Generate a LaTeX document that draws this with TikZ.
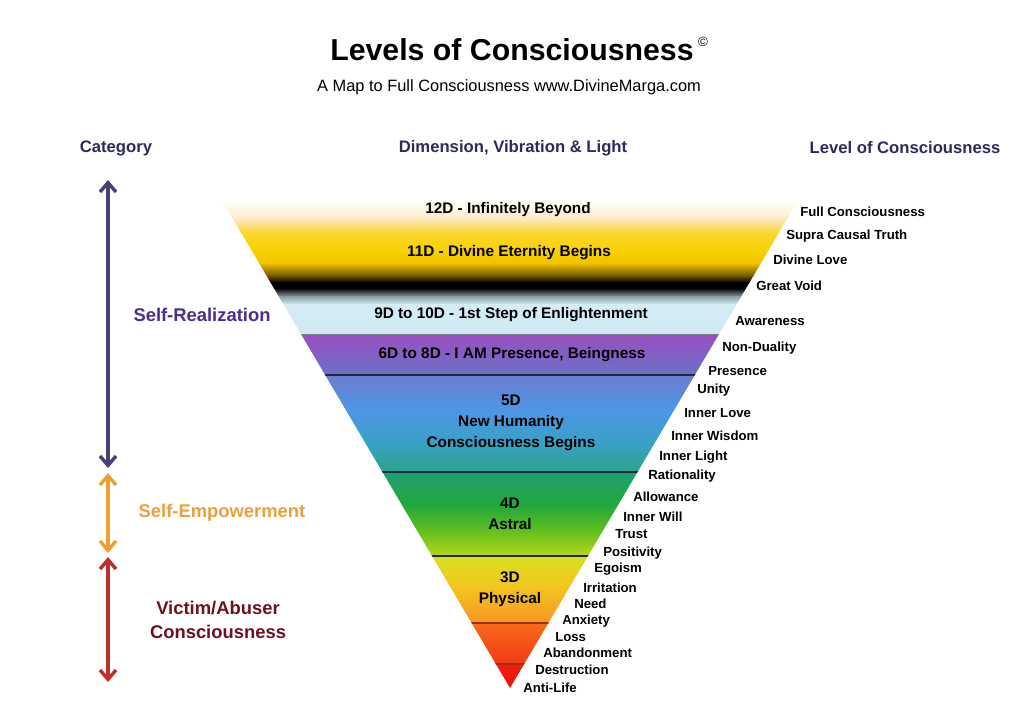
\documentclass[tikz,border=0pt]{standalone}
\usepackage{fontspec}
\setmainfont{Liberation Sans}
\usetikzlibrary{arrows.meta}
\definecolor{hdr}{HTML}{2B2B5E}
\definecolor{cpurple}{HTML}{4A2D8C}
\definecolor{corange}{HTML}{E8A040}
\definecolor{cred}{HTML}{6E1020}
\definecolor{apurple}{HTML}{4A3D78}
\definecolor{aorange}{HTML}{F0A030}
\definecolor{ared}{HTML}{C0302A}
\definecolor{g01}{HTML}{FFFFFF}
\definecolor{g02}{HTML}{FBEBC8}
\definecolor{g03}{HTML}{FAD630}
\definecolor{g04}{HTML}{F8D200}
\definecolor{g05}{HTML}{F0C200}
\definecolor{g06}{HTML}{6A5000}
\definecolor{g07}{HTML}{000000}
\definecolor{g08}{HTML}{8A9AA0}
\definecolor{g09}{HTML}{D5ECF4}
\definecolor{g10}{HTML}{CFE9F3}
\definecolor{g11}{HTML}{9A4EC0}
\definecolor{g12}{HTML}{6A72C8}
\definecolor{g13}{HTML}{6B7DCF}
\definecolor{g14}{HTML}{4F96E6}
\definecolor{g15}{HTML}{3AA0C8}
\definecolor{g16}{HTML}{2AA38A}
\definecolor{g17}{HTML}{1FA073}
\definecolor{g18}{HTML}{22A83A}
\definecolor{g19}{HTML}{5FBF20}
\definecolor{g20}{HTML}{B8D818}
\definecolor{g21}{HTML}{D8E01E}
\definecolor{g22}{HTML}{F2C820}
\definecolor{g23}{HTML}{F89422}
\definecolor{g24}{HTML}{F86A1C}
\definecolor{g25}{HTML}{F23A12}
\definecolor{g26}{HTML}{F01E10}
\definecolor{g27}{HTML}{EE0E0E}
\definecolor{bline}{HTML}{1E2A40}
\definecolor{rline}{HTML}{A03010}
\begin{document}
\begin{tikzpicture}[x=0.75pt,y=-0.75pt,
  title/.style={font=\fontsize{22.7}{27}\selectfont\bfseries},
  sub/.style={font=\fontsize{12.3}{15}\selectfont},
  hd/.style={font=\fontsize{12.5}{15}\selectfont\bfseries, text=hdr},
  band/.style={font=\fontsize{11.5}{15.75}\selectfont\bfseries, align=center, inner sep=0pt},
  rlab/.style={font=\fontsize{9.9}{12}\selectfont\bfseries, anchor=west, inner sep=0pt},
  cat/.style={font=\fontsize{13.8}{17.5}\selectfont\bfseries, align=center},
  arr/.style={line width=2.6pt, arrows={Straight Barb[length=7pt,width=12pt]-Straight Barb[length=7pt,width=12pt]}},
  divb/.style={draw=bline, line width=0.9pt},
  divr/.style={draw=rline, line width=0.9pt}
]
\useasboundingbox (0,0) rectangle (1024,725);
\fill[white] (0,0) rectangle (1024,725);

% inverted triangle with colour bands
\begin{scope}
\clip (210,180) -- (810,180) -- (510,688) -- cycle;
\foreach \ya/\yb/\ca/\cb in {180/200/g01/g01, 200/218/g01/g02, 218/232/g02/g03, 232/250/g03/g04, 250/263/g04/g05, 263/276/g05/g06, 276/282/g06/g07, 282/288/g07/g07, 288/296/g07/g08, 296/304/g08/g09, 304/334/g09/g10, 334/375/g11/g12, 375/410/g13/g14, 410/440/g14/g15, 440/472/g15/g16, 472/505/g17/g18, 505/530/g18/g19, 530/556/g19/g20, 556/585/g21/g22, 585/623/g22/g23, 623/664/g24/g25, 664/690/g26/g27}
  { \shade[top color=\ca, bottom color=\cb] (200,\ya) rectangle (820,\yb+0.7); }
\draw[draw=bline!60, line width=0.5pt] (200,334) -- (820,334);
\draw[divb] (200,375) -- (820,375);
\draw[divb] (200,472) -- (820,472);
\draw[divb] (200,556) -- (820,556);
\draw[divr] (200,623) -- (820,623);
\draw[divr] (200,664) -- (820,664);
\end{scope}

% titles
\node[title] (t) at (512,50) {Levels of Consciousness};
\node[font=\fontsize{10}{12}\selectfont, inner sep=0pt] (copy) at (703,42) {©};
\node[sub] (st) at (509,87.5) {A Map to Full Consciousness www.DivineMarga.com};

% column headers
\node[hd] (h1) at (116,148) {Category};
\node[hd] (h2) at (513,148) {Dimension, Vibration \& Light};
\node[hd] (h3) at (905,148) {Level of Consciousness};

% band labels
\node[band] (b12) at (508,210) {12D - Infinitely Beyond};
\node[band] (b11) at (509,253) {11D - Divine Eternity Begins};
\node[band] (b9) at (511,315) {9D to 10D - 1st Step of Enlightenment};
\node[band] (b6) at (512,355) {6D to 8D - I AM Presence, Beingness};
\node[band] (b5) at (511,423) {5D\\New Humanity\\Consciousness Begins};
\node[band] (b4) at (510,514) {4D\\Astral};
\node[band] (b3) at (510,589) {3D\\Physical};

% levels of consciousness
\node[rlab] (l1) at (800,212) {Full Consciousness};
\node[rlab] (l2) at (786,236) {Supra Causal Truth};
\node[rlab] (l3) at (773,260) {Divine Love};
\node[rlab] (l4) at (756,286) {Great Void};
\node[rlab] (l5) at (735,321) {Awareness};
\node[rlab] (l6) at (722,348) {Non-Duality};
\node[rlab] (l7) at (708,371) {Presence};
\node[rlab] (l8) at (697,390) {Unity};
\node[rlab] (l9) at (684,413) {Inner Love};
\node[rlab] (l10) at (671,436) {Inner Wisdom};
\node[rlab] (l11) at (659,457) {Inner Light};
\node[rlab] (l12) at (648,476) {Rationality};
\node[rlab] (l13) at (633,497) {Allowance};
\node[rlab] (l14) at (623,517) {Inner Will};
\node[rlab] (l15) at (615,534) {Trust};
\node[rlab] (l16) at (603,553) {Positivity};
\node[rlab] (l17) at (594,569) {Egoism};
\node[rlab] (l18) at (583,588) {Irritation};
\node[rlab] (l19) at (574,604) {Need};
\node[rlab] (l20) at (562,621) {Anxiety};
\node[rlab] (l21) at (555,637) {Loss};
\node[rlab] (l22) at (543,653) {Abandonment};
\node[rlab] (l23) at (535,670) {Destruction};
\node[rlab] (l24) at (523,688) {Anti-Life};

% category arrows
\coordinate (pa) at (108,180);
\coordinate (pb) at (108,468);
\coordinate (oa) at (108,473);
\coordinate (ob) at (108,553);
\coordinate (ra) at (108,557);
\coordinate (rb) at (108,682);
\draw[arr, draw=apurple] (pa) -- (pb);
\draw[arr, draw=aorange] (oa) -- (ob);
\draw[arr, draw=ared] (ra) -- (rb);

% category labels
\node[cat, text=cpurple] (c1) at (202,315) {Self-Realization};
\node[cat, text=corange] (c2) at (222,513) {Self-Empowerment};
\node[cat, text=cred] (c3) at (218,620) {Victim/Abuser\\Consciousness};
\end{tikzpicture}
\end{document}
